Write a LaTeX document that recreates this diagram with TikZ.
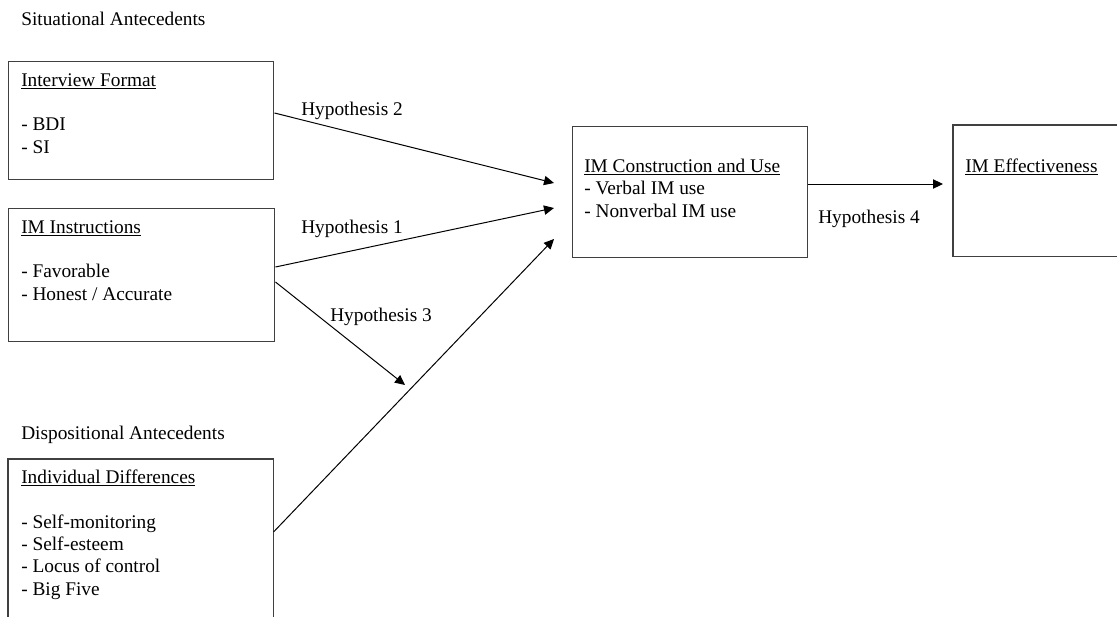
\documentclass[tikz,border=0pt]{standalone}
\usepackage{fontspec}
\setmainfont{Liberation Serif}
\usetikzlibrary{arrows.meta,positioning}

\begin{document}
\begin{tikzpicture}[x=0.75pt,y=-0.75pt,>={Triangle[length=7.5pt,width=7pt]},every node/.style={font=\fontsize{14.5}{16.7}\selectfont},
  box/.style={draw=black!75,line width=1.1pt,inner sep=0pt,anchor=north west},
  openbox/.style={inner sep=0pt,anchor=north west},
  txt/.style={align=left,inner sep=0pt,anchor=base west},
  link/.style={->,line width=0.75pt}]
\useasboundingbox (0,0) rectangle (1117,617);
\node[txt] (sit) at (21,26) {Situational Antecedents};
\node[txt] (disp) at (21,439) {Dispositional Antecedents};
\node[box,minimum width=198.75pt,minimum height=88.5pt] (fmt) at (8,61) {};
\node[box,minimum width=199.5pt,minimum height=99.75pt] (instr) at (8,208) {};
\node[openbox,minimum width=198.75pt,minimum height=118.5pt] (indiv) at (8,459) {};
\node[box,minimum width=176.25pt,minimum height=98.25pt] (cons) at (572,126) {};
\node[openbox,minimum width=123pt,minimum height=98.25pt] (eff) at (953,125) {};
\draw[draw=black!75,line width=1.1pt] (indiv.south west)--(indiv.north west)--(indiv.north east)--(indiv.south east);
\draw[draw=black!75,line width=1.1pt] (eff.north east)--(eff.north west)--(eff.south west)--(eff.south east);
% multi-line texts sit on the baseline of their last line
\node[txt] (fmttxt) at (21,153) {\underline{Interview Format}\\[16.7pt]- BDI\\- SI};
\node[txt] (instrtxt) at (21,300) {\underline{IM Instructions}\\[16.7pt]- Favorable\\- Honest / Accurate};
\node[txt] (indivtxt) at (21,595) {\underline{Individual Differences}\\[16.7pt]- Self-monitoring\\- Self-esteem\\- Locus of control\\- Big Five};
\node[txt] (constxt) at (584,217) {\underline{IM Construction and Use}\\- Verbal IM use\\- Nonverbal IM use};
\node[txt] (efftxt) at (965,172) {\underline{IM Effectiveness}};
% arrow ends
\coordinate (h2tip) at (554,183);\coordinate (h1tip) at (554,208);
\coordinate (h3tip) at (405,385);\coordinate (h5tip) at (554,239);
\coordinate (h4tip) at (943,184);
\draw[link] ([yshift=-39pt]fmt.north east)--(h2tip);
\draw[link] ([yshift=-44.25pt]instr.north east)--(h1tip);
\draw[link] ([yshift=-55.5pt]instr.north east)--(h3tip);
\draw[link] ([yshift=-54.75pt]indiv.north east)--(h5tip);
\draw[link] ([yshift=-43.5pt]cons.north east)--(h4tip);
\node[txt] (hyp2) at (301,115) {Hypothesis 2};
\node[txt] (hyp1) at (301,233) {Hypothesis 1};
\node[txt] (hyp3) at (330,321) {Hypothesis 3};
\node[txt] (hyp4) at (818,223) {Hypothesis 4};
\end{tikzpicture}
\end{document}
